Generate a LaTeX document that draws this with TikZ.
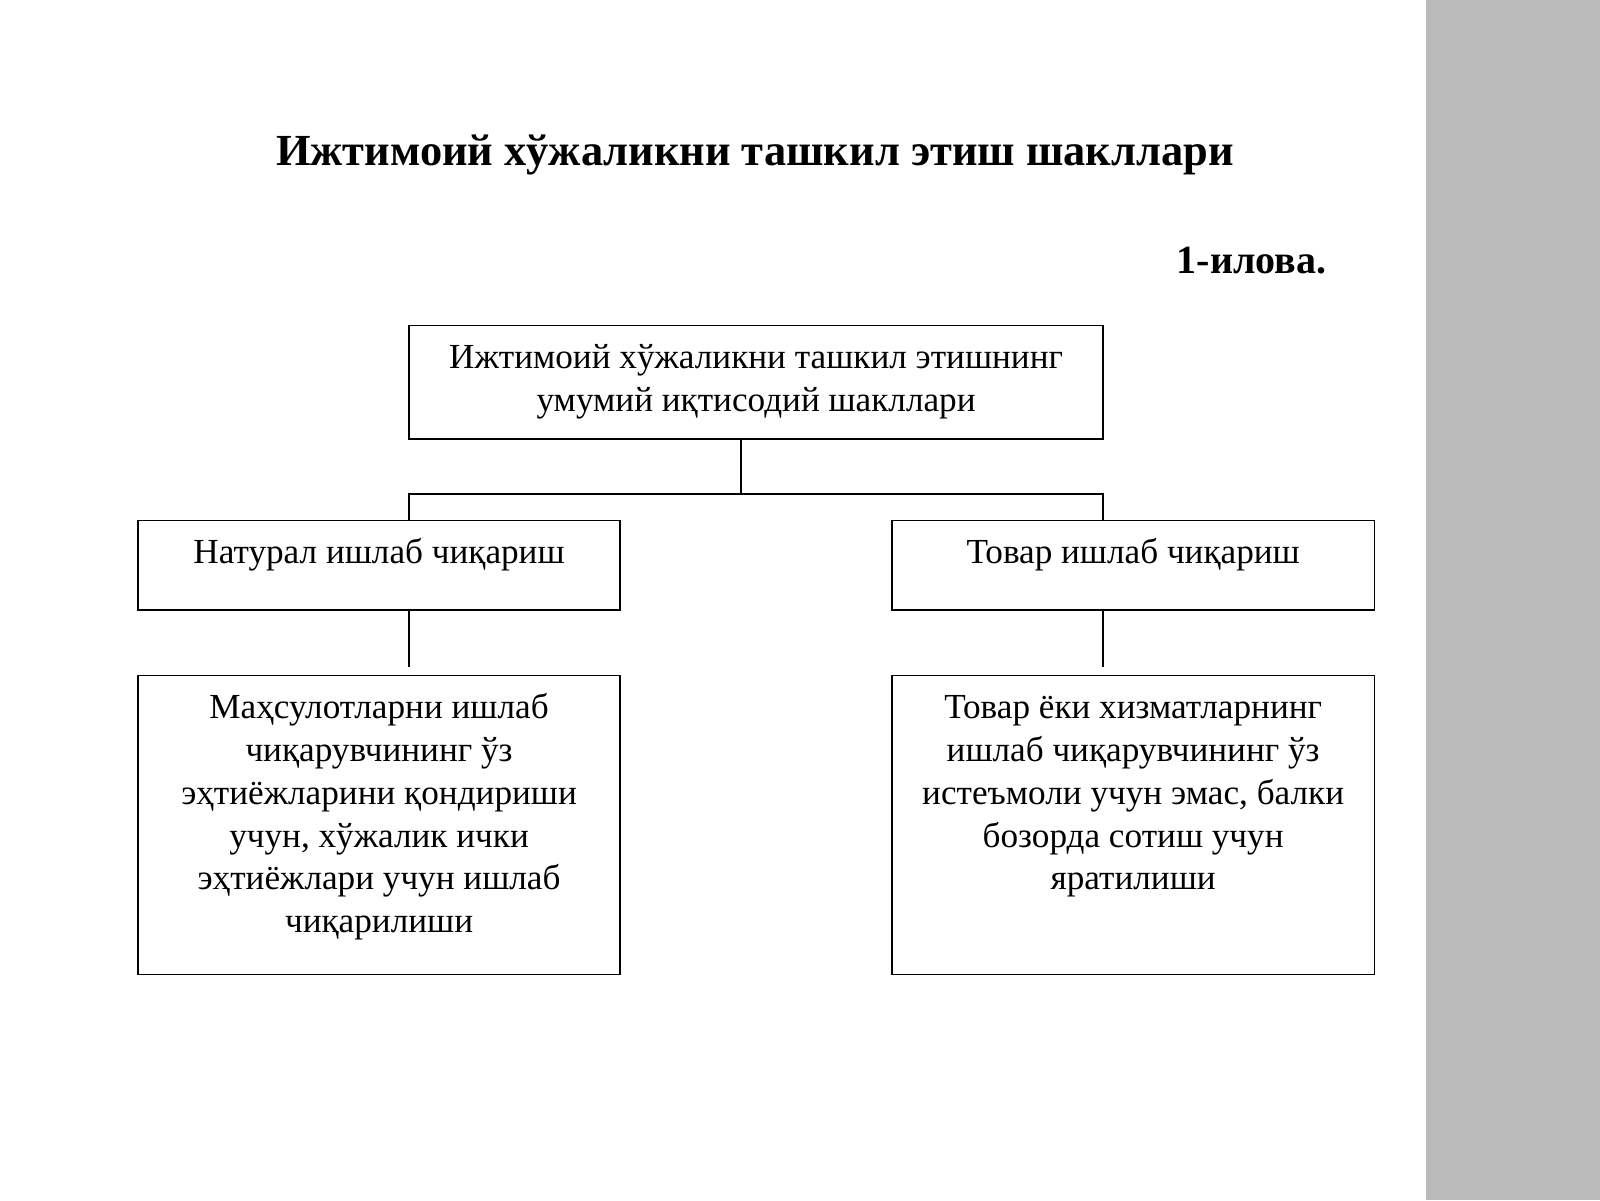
\documentclass[tikz,border=0pt]{standalone}
\usepackage{fontspec}
\setmainfont{Liberation Serif}
\definecolor{stripe}{RGB}{186,186,186}
\begin{document}
\begin{tikzpicture}[x=0.5102pt,y=-0.5102pt,
  box/.style={draw, line width=0.9pt, inner sep=0pt},
  midbox/.style={box, minimum width=241.3pt, minimum height=44.9pt},
  lowbox/.style={box, minimum width=241.3pt, minimum height=149.5pt},
  txt/.style={inner sep=0pt, align=center, font=\fontsize{17.6}{21.4}\selectfont},
  ttl/.style={inner sep=0pt, font=\fontsize{22.2}{26}\selectfont\bfseries},
  ilv/.style={inner sep=0pt, font=\fontsize{20}{24}\selectfont\bfseries},
  conn/.style={line width=0.8pt}]
\useasboundingbox (0,0) rectangle (1568,1176);
\fill[white] (0,0) rectangle (1568,1176);
\fill[stripe] (1397,0) rectangle (1568,1176);

\node[ttl, anchor=base] (title) at (740,162) {Ижтимоий хўжаликни ташкил этиш шакллари};
\node[ilv, anchor=base east] (ilova) at (1300,268) {1-илова.};

\node[box, minimum width=346.9pt, minimum height=56.6pt] (top) at (741,374.5) {};
\node[midbox] (lmid) at (371.5,554) {};
\node[midbox] (rmid) at (1110.5,554) {};
\node[lowbox] (llow) at (371.5,808.5) {};
\node[lowbox] (rlow) at (1110.5,808.5) {};

\node[txt, anchor=base] (toptxt) at (741,403) {Ижтимоий хўжаликни ташкил этишнинг\\умумий иқтисодий шакллари};
\node[txt, anchor=base] (lmidtxt) at (371.5,552) {Натурал ишлаб чиқариш};
\node[txt, anchor=base] (rmidtxt) at (1110.5,552) {Товар ишлаб чиқариш};
\node[txt, anchor=base] (llowtxt) at (371.5,914) {Маҳсулотларни ишлаб\\чиқарувчининг ўз\\эҳтиёжларини қондириши\\учун, хўжалик ички\\эҳтиёжлари учун ишлаб\\чиқарилиши};
\node[txt, anchor=base] (rlowtxt) at (1110.5,872) {Товар ёки хизматларнинг\\ишлаб чиқарувчининг ўз\\истеъмоли учун эмас, балки\\бозорда сотиш учун\\яратилиши};

\coordinate (j) at (726,484);
\coordinate (jl) at (401,484);
\coordinate (jr) at (1081,484);
\coordinate (el) at (401,654);
\coordinate (er) at (1081,654);
\draw[conn] (j |- top.south) -- (j);
\draw[conn] (jl |- lmid.north) -- (jl) -- (jr) -- (jr |- rmid.north);
\draw[conn] (el |- lmid.south) -- (el);
\draw[conn] (er |- rmid.south) -- (er);
\end{tikzpicture}
\end{document}
